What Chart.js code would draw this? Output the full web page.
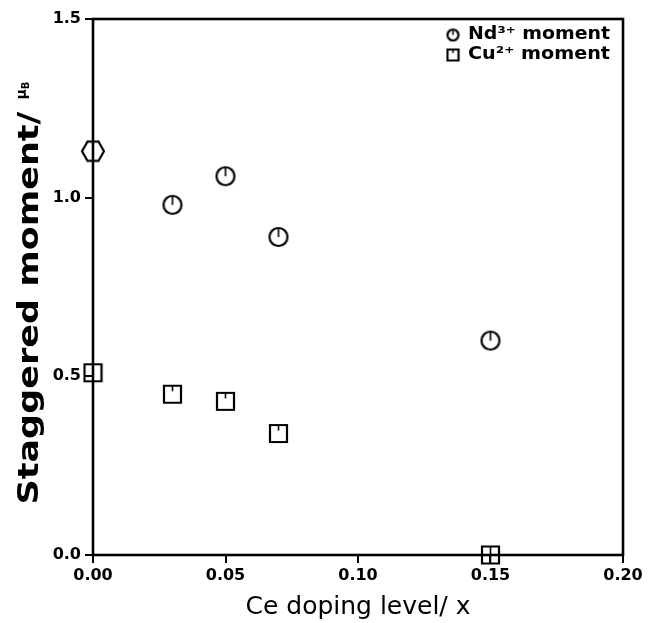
<!DOCTYPE html>
<html>
<head>
<meta charset="utf-8">
<script src="https://cdn.jsdelivr.net/npm/chart.js@4/dist/chart.umd.min.js"></script>
<style>
  html, body { margin: 0; padding: 0; background: #ffffff; }
  canvas { display: block; }
</style>
</head>
<body>
<canvas id="chart" width="651" height="623"></canvas>
<script>
// Ce doping level x and ordered moments (in Bohr magnetons)
const dopingNd = [0.0, 0.03, 0.05, 0.07, 0.15];
const momentNd = [1.13, 0.98, 1.06, 0.89, 0.60];
const dopingCu = [0.0, 0.03, 0.05, 0.07, 0.15];
const momentCu = [0.51, 0.45, 0.43, 0.34, 0.0];
const seriesNames = ['Nd³⁺ moment', 'Cu²⁺ moment'];
const xTicks = [0, 0.05, 0.10, 0.15, 0.20];
const yTicks = [0, 0.5, 1.0, 1.5];
const xTitle = 'Ce doping level/ x';
const yTitleMain = 'Staggered moment/ ';
const yTitleUnit = ['μ', 'B'];

const FONT = '"DejaVu Sans", "Liberation Sans", sans-serif';

// Open marker with a small error tick drawn inside it
function makeMarker(shape, size, tick) {
  const pad = 2;
  const s = Math.ceil(size + pad * 2);
  const c = document.createElement('canvas');
  c.width = s; c.height = s;
  const g = c.getContext('2d');
  const m = s / 2, r = size / 2;
  g.strokeStyle = '#000';
  g.lineWidth = 2.2;
  g.beginPath();
  if (shape === 'circle') {
    g.arc(m, m, r, 0, Math.PI * 2);
  } else if (shape === 'hexagon') {
    for (let i = 0; i < 6; i++) {
      const a = i * Math.PI / 3;
      const px = m + r * Math.cos(a), py = m + r * Math.sin(a);
      if (i) g.lineTo(px, py); else g.moveTo(px, py);
    }
    g.closePath();
  } else {
    g.rect(m - r, m - r, size, size);
  }
  g.stroke();
  g.beginPath();
  g.lineWidth = 1.6;
  if (tick === 'half') { g.moveTo(m, m - r); g.lineTo(m, m); }
  else if (tick === 'short') { g.moveTo(m, m - r); g.lineTo(m, m - r * 0.35); }
  else if (tick === 'full') { g.moveTo(m, m - r); g.lineTo(m, m + r); }
  g.stroke();
  return c;
}

const circleTick = makeMarker('circle', 18, 'half');
const hexMark = makeMarker('hexagon', 22, 'none');
const squareTick = makeMarker('square', 17, 'short');
const squarePlain = makeMarker('square', 17, 'none');
const squareFull = makeMarker('square', 17, 'full');
const legendCircle = makeMarker('circle', 11, 'half');
const legendSquare = makeMarker('square', 11, 'short');

const ndStyles = dopingNd.map(x => (x === 0 ? hexMark : circleTick));
const cuStyles = dopingCu.map((x, i) => {
  if (x === 0) return squarePlain;
  if (momentCu[i] === 0) return squareFull;
  return squareTick;
});

// Plot frame, drawn under the markers
const framePlugin = {
  id: 'frame',
  beforeDatasetsDraw(chart) {
    const { ctx, chartArea: a } = chart;
    ctx.save();
    ctx.strokeStyle = '#000';
    ctx.lineWidth = 2.6;
    ctx.strokeRect(a.left, a.top, a.right - a.left, a.bottom - a.top);
    ctx.restore();
  }
};

// Legend in the upper right corner of the plot
const legendPlugin = {
  id: 'cornerLegend',
  afterDraw(chart) {
    const { ctx, chartArea: a } = chart;
    const icons = [legendCircle, legendSquare];
    ctx.save();
    ctx.font = 'bold 17px ' + FONT;
    ctx.fillStyle = '#000';
    ctx.textBaseline = 'middle';
    chart.data.datasets.forEach((ds, i) => {
      const y = a.top + 16 + i * 20;
      const ix = a.right - 170;
      const img = icons[i];
      ctx.drawImage(img, ix - img.width / 2, y - img.height / 2);
      const w = ctx.measureText(ds.label).width;
      const k = 142 / w;
      ctx.save();
      ctx.translate(ix + 15, y);
      ctx.scale(k, 1);
      ctx.fillText(ds.label, 0, 0);
      ctx.restore();
    });
    ctx.restore();
  }
};

// Rotated y-axis title with the Bohr magneton unit
const yTitlePlugin = {
  id: 'yTitle',
  afterDraw(chart) {
    const { ctx, chartArea: a } = chart;
    ctx.save();
    const mainFont = 'bold 28px ' + FONT;
    const unitFont = 'bold 14px ' + FONT;
    const subFont = 'bold 10px ' + FONT;
    ctx.font = mainFont;
    const wMain = ctx.measureText(yTitleMain).width;
    ctx.font = unitFont;
    const wMu = ctx.measureText(yTitleUnit[0]).width;
    ctx.font = subFont;
    const wB = ctx.measureText(yTitleUnit[1]).width;
    const targetMain = 405;
    const k = targetMain / wMain;
    const total = targetMain + wMu + wB;
    const cy = (a.top + a.bottom) / 2 + 6;
    ctx.translate(38, cy);
    ctx.rotate(-Math.PI / 2);
    ctx.fillStyle = '#000';
    ctx.textBaseline = 'alphabetic';
    let x = -total / 2;
    ctx.save();
    ctx.scale(k, 1);
    ctx.font = mainFont;
    ctx.fillText(yTitleMain, x / k, 0);
    ctx.restore();
    x += targetMain;
    ctx.font = unitFont;
    ctx.fillText(yTitleUnit[0], x, -12);
    x += wMu;
    ctx.font = subFont;
    ctx.fillText(yTitleUnit[1], x, -9);
    ctx.restore();
  }
};

new Chart(document.getElementById('chart'), {
  type: 'scatter',
  data: {
    datasets: [
      {
        label: seriesNames[0],
        data: dopingNd.map((x, i) => ({ x, y: momentNd[i] })),
        pointStyle: ndStyles,
        showLine: false,
        clip: false
      },
      {
        label: seriesNames[1],
        data: dopingCu.map((x, i) => ({ x, y: momentCu[i] })),
        pointStyle: cuStyles,
        showLine: false,
        clip: false
      }
    ]
  },
  options: {
    responsive: false,
    animation: false,
    events: [],
    layout: { padding: { left: 0, top: 19, right: 28, bottom: 0 } },
    plugins: {
      legend: { display: false },
      tooltip: { enabled: false }
    },
    scales: {
      x: {
        type: 'linear',
        min: 0,
        max: 0.2,
        afterBuildTicks(scale) { scale.ticks = xTicks.map(v => ({ value: v })); },
        afterFit(scale) { scale.height = 68; },
        border: { display: false },
        grid: {
          drawOnChartArea: false,
          drawTicks: true,
          tickLength: 8,
          lineWidth: 2,
          color: '#000'
        },
        ticks: {
          color: '#000',
          padding: 3,
          maxRotation: 0,
          font: { family: FONT, size: 16, weight: 'bold' },
          callback: v => Number(v).toFixed(2)
        },
        title: {
          display: true,
          text: xTitle,
          color: '#000',
          font: { family: FONT, size: 25, weight: 'normal' },
          padding: { top: 0, bottom: 1 }
        }
      },
      y: {
        type: 'linear',
        min: 0,
        max: 1.5,
        afterBuildTicks(scale) { scale.ticks = yTicks.map(v => ({ value: v })); },
        afterFit(scale) { scale.width = 93; },
        border: { display: false },
        grid: {
          drawOnChartArea: false,
          drawTicks: true,
          tickLength: 8,
          lineWidth: 2,
          color: '#000'
        },
        ticks: {
          color: '#000',
          padding: 4,
          font: { family: FONT, size: 16, weight: 'bold' },
          callback: v => Number(v).toFixed(1)
        }
      }
    }
  },
  plugins: [framePlugin, legendPlugin, yTitlePlugin]
});
</script>
</body>
</html>
